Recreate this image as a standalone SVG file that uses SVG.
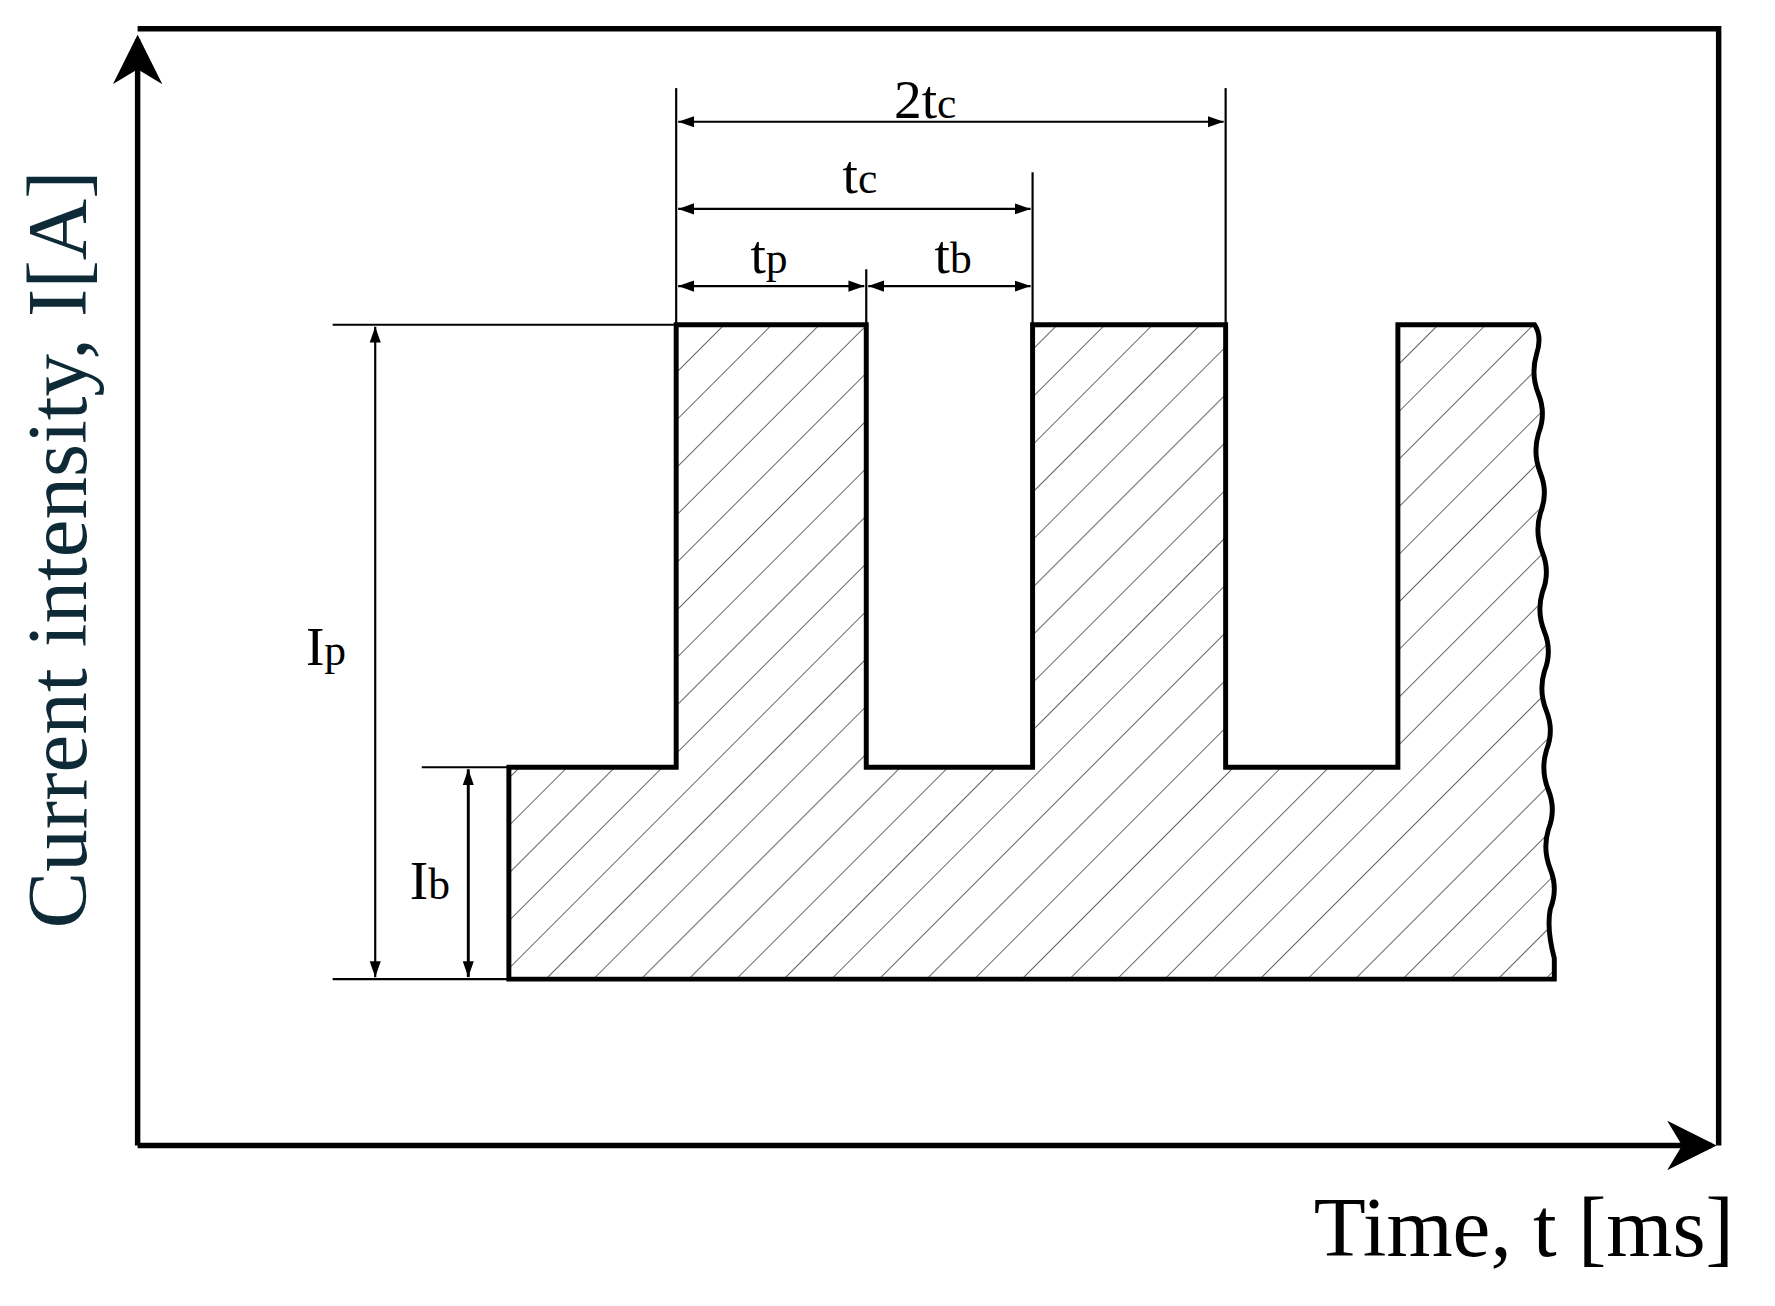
<svg xmlns="http://www.w3.org/2000/svg" width="1775" height="1306" viewBox="0 0 1775 1306">
<style>
.t{font-family:"Liberation Serif",serif;fill:#000}
.thin{stroke:#000;stroke-width:2.2;fill:none}
.thick{stroke:#000;stroke-width:5;fill:none}
</style>
<defs>
<pattern id="h" patternUnits="userSpaceOnUse" width="34" height="34" patternTransform="rotate(45)">
<line x1="0" y1="0" x2="0" y2="34" stroke="#000" stroke-width="1.2"/>
</pattern>
<marker id="a" viewBox="0 0 10 10" refX="10" refY="5" markerWidth="16" markerHeight="16" markerUnits="userSpaceOnUse" orient="auto-start-reverse"><path d="M0,1.5 L10,5 L0,8.5 Z" fill="#000"/></marker>
<marker id="big" viewBox="0 0 10 10" refX="9" refY="5" markerWidth="50" markerHeight="50" markerUnits="userSpaceOnUse" orient="auto"><path d="M0,0 L10,5 L0,10 L3,5 Z" fill="#000"/></marker>
</defs>
<rect width="1775" height="1306" fill="#fff"/>
<g transform="translate(1,0) scale(0.99)">
<g id="frame">
<path d="M138,1157 V40" class="thick" marker-end="url(#big)" style="stroke-width:5.5"/>
<path d="M138,1157 H1728" class="thick" marker-end="url(#big)" style="stroke-width:5.5"/>
<path d="M138,29 H1735 V1157" class="thick" style="stroke-width:5.5"/>
</g>
<g id="waveform">
<path d="M513,989 V775 H682 V328 H874 V775 H1042 V328 H1237 V775 H1411 V328 H1549 q8,12 2,30 q-6,20 2,40 q8,20 0,40 q-6,20 2,40 q8,20 0,40 q-6,20 2,40 q8,20 0,40 q-6,20 2,40 q8,20 0,40 q-6,20 2,40 q8,20 0,40 q-6,20 2,40 q8,20 0,40 q-6,20 2,40 q8,20 0,40 q-4,20 4,50 V989 Z" fill="url(#h)"/>
<path d="M513,989 V775 H682 V328 H874 V775 H1042 V328 H1237 V775 H1411 V328 H1549 q8,12 2,30 q-6,20 2,40 q8,20 0,40 q-6,20 2,40 q8,20 0,40 q-6,20 2,40 q8,20 0,40 q-6,20 2,40 q8,20 0,40 q-6,20 2,40 q8,20 0,40 q-6,20 2,40 q8,20 0,40 q-6,20 2,40 q8,20 0,40 q-4,20 4,50 V989 Z" class="thick"/>
</g>
<g id="connectors">
<line x1="335" y1="328" x2="682" y2="328" class="thin"/>
<line x1="335" y1="989" x2="513" y2="989" class="thin"/>
<line x1="425" y1="775" x2="513" y2="775" class="thin"/>
<line x1="378" y1="330" x2="378" y2="987" class="thin" marker-start="url(#a)" marker-end="url(#a)"/>
<line x1="472" y1="777" x2="472" y2="987" class="thin" style="stroke-width:3" marker-start="url(#a)" marker-end="url(#a)"/>
<line x1="682" y1="89" x2="682" y2="328" class="thin"/>
<line x1="1237" y1="89" x2="1237" y2="328" class="thin"/>
<line x1="1042" y1="174" x2="1042" y2="328" class="thin"/>
<line x1="874" y1="272" x2="874" y2="328" class="thin"/>
<line x1="684" y1="123" x2="1235" y2="123" class="thin" marker-start="url(#a)" marker-end="url(#a)"/>
<line x1="684" y1="211" x2="1040" y2="211" class="thin" marker-start="url(#a)" marker-end="url(#a)"/>
<line x1="684" y1="289" x2="872" y2="289" class="thin" marker-start="url(#a)" marker-end="url(#a)"/>
<line x1="876" y1="289" x2="1040" y2="289" class="thin" marker-start="url(#a)" marker-end="url(#a)"/>
</g>
<g id="labels">
<text class="t" x="902" y="119" font-size="56">2t<tspan font-size="44">c</tspan></text>
<text class="t" x="850" y="195" font-size="56">t<tspan font-size="44">c</tspan></text>
<text class="t" x="757" y="276" font-size="56">t<tspan font-size="44">p</tspan></text>
<text class="t" x="943" y="276" font-size="56">t<tspan font-size="44">b</tspan></text>
<text class="t" x="308" y="672" font-size="56">I<tspan font-size="44">p</tspan></text>
<text class="t" x="413" y="908" font-size="56">I<tspan font-size="44">b</tspan></text>
<text class="t" x="1326" y="1269" font-size="86">Time, t [ms]</text>
<text class="t" transform="translate(86,555) rotate(-90)" text-anchor="middle" font-size="86" style="fill:#0d2a36">Current intensity, I[A]</text>
</g>
</g>
</svg>
